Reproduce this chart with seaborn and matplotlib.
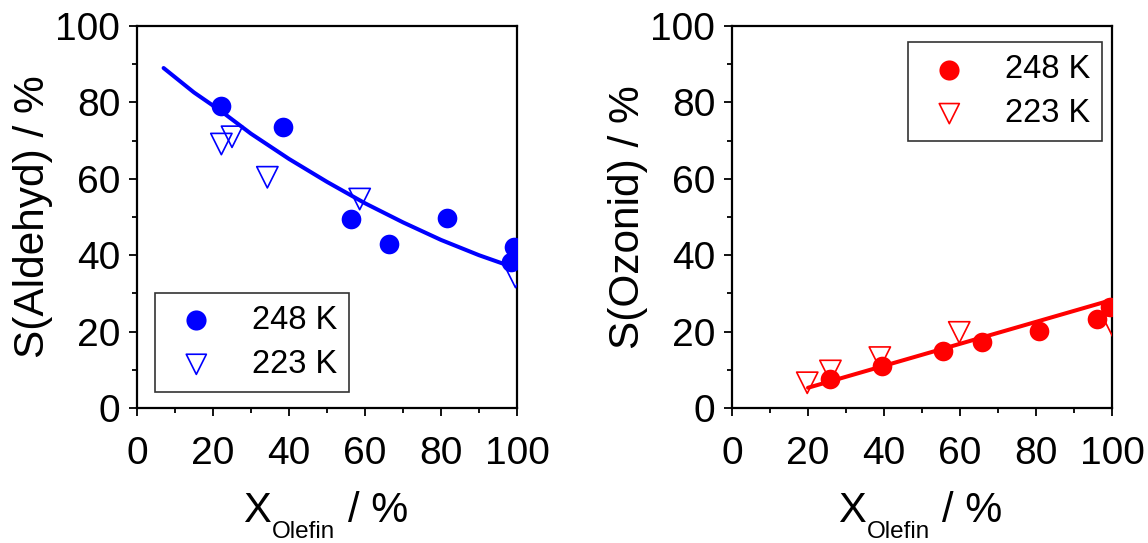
import matplotlib
matplotlib.use("Agg")
import matplotlib.pyplot as plt
import seaborn as sns
import numpy as np
import pandas as pd
from matplotlib.ticker import MultipleLocator

sns.set_theme(style="ticks")
plt.rcParams['font.family'] = ['Liberation Sans', 'DejaVu Sans']
plt.rcParams['text.color'] = 'black'
plt.rcParams['axes.labelcolor'] = 'black'

# ---- Left panel: aldehyde selectivity ----
ald_x_248 = [22.0, 38.4, 56.4, 66.3, 81.7, 99.2, 98.3]
ald_y_248 = [79.0, 73.5, 49.5, 42.9, 49.7, 42.1, 38.2]
ald_x_223 = [22.2, 25.0, 34.3, 58.6, 99.6]
ald_y_223 = [69.1, 71.0, 60.4, 54.7, 34.3]
ald_fit_x = [7, 15, 22, 30, 40, 50, 60, 70, 80, 90, 100]
ald_fit_y = [89.0, 82.6, 77.8, 71.8, 65.2, 59.2, 53.6, 48.6, 44.0, 40.0, 36.5]

# ---- Right panel: ozonide selectivity ----
ozo_x_248 = [25.8, 39.6, 55.6, 65.9, 80.7, 96.0, 99.6]
ozo_y_248 = [7.7, 10.9, 15.0, 17.3, 20.2, 23.3, 26.4]
ozo_x_223 = [19.8, 25.9, 38.9, 59.8, 100.2]
ozo_y_223 = [6.6, 9.7, 13.2, 19.8, 21.4]
ozo_fit_x = [20, 100]
ozo_fit_y = [5.3, 28.3]

series_labels = ["248 K", "223 K"]
y_labels = ["S(Aldehyd) / %", "S(Ozonid) / %"]
x_label_parts = ["X", "Olefin", "/ %"]
x_ticks = [0, 20, 40, 60, 80, 100]
y_ticks = [0, 20, 40, 60, 80, 100]

W, H = 1148, 543
fig = plt.figure(figsize=(W / 100, H / 100), dpi=100)
ax1 = fig.add_axes([137 / W, 1 - 408 / H, 380 / W, 382 / H])
ax2 = fig.add_axes([732 / W, 1 - 408 / H, 380 / W, 382 / H])

panels = [
    (ax1, "blue", ald_x_248, ald_y_248, ald_x_223, ald_y_223, ald_fit_x, ald_fit_y, y_labels[0],
     "lower left", (0.047, 0.042), (243, 272, 348)),
    (ax2, "red", ozo_x_248, ozo_y_248, ozo_x_223, ozo_y_223, ozo_fit_x, ozo_fit_y, y_labels[1],
     "upper right", (0.974, 0.958), (838, 867, 942)),
]

for ax, col, x1, y1, x2, y2, fx, fy, ylab, loc, anchor, lab_px in panels:
    sns.lineplot(x=fx, y=fy, ax=ax, color=col, linewidth=2.9, legend=False,
                 estimator=None, sort=False, zorder=2)
    sns.scatterplot(x=x1, y=y1, ax=ax, color=col, marker="o", s=200,
                    edgecolor=col, linewidth=0, label=series_labels[0], zorder=3)
    sns.scatterplot(x=x2, y=y2, ax=ax, marker="v", s=235, facecolor="none",
                    edgecolor=col, linewidth=1.2, label=series_labels[1], zorder=4)
    ax.set_xlim(0, 100)
    ax.set_ylim(0, 100)
    ax.set_xticks(x_ticks)
    ax.set_yticks(y_ticks)
    ax.xaxis.set_minor_locator(MultipleLocator(10))
    ax.yaxis.set_minor_locator(MultipleLocator(10))
    ax.tick_params(which="major", direction="out", length=6, width=1.3,
                   labelsize=28, color="black", labelcolor="black", pad=6)
    ax.tick_params(which="minor", direction="out", length=3.5, width=1.3, color="black")
    ax.tick_params(axis="x", which="major", pad=14)
    for sp in ax.spines.values():
        sp.set_linewidth(1.6)
        sp.set_color("black")
        sp.set_visible(True)
    ax.set_ylabel(ylab, fontsize=30.5, color="black", labelpad=2)
    ax.set_xlabel("")
    ax.set_facecolor("white")
    leg = ax.legend(loc=loc, bbox_to_anchor=anchor, fontsize=23.5, frameon=True,
                    fancybox=False, edgecolor="black", borderpad=0.37,
                    handletextpad=0.8, handlelength=1.8, labelspacing=0.4,
                    borderaxespad=0)
    leg.get_frame().set_linewidth(1.2)
    for t in leg.get_texts():
        t.set_color("black")
    for h in leg.legend_handles:
        h.set_sizes([210])

    # x-axis label "X_Olefin / %" built from pieces (big X, lowered small subscript)
    xa, xb, xc = lab_px
    fig.text(xa / W, 1 - 522 / H, x_label_parts[0], fontsize=30, ha="left", va="baseline",
             color="black")
    fig.text(xb / W, 1 - 538 / H, x_label_parts[1], fontsize=17.5, ha="left", va="baseline",
             color="black")
    fig.text(xc / W, 1 - 522 / H, x_label_parts[2], fontsize=30, ha="left", va="baseline",
             color="black")

fig.savefig("out.png", dpi=100, facecolor="white")
